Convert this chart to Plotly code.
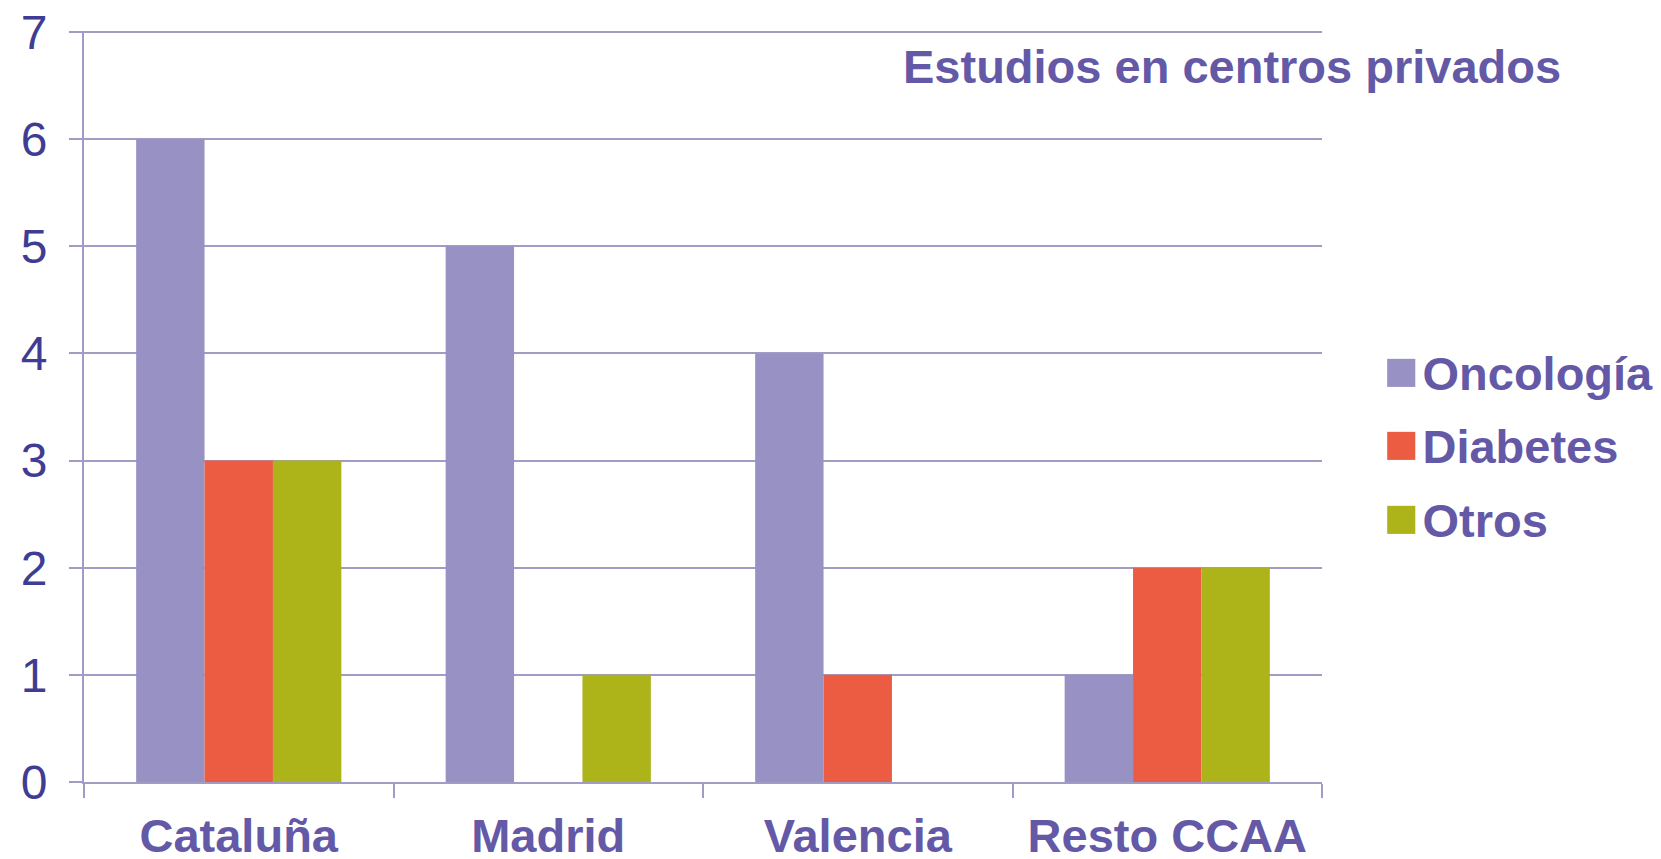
import plotly.graph_objects as go

categories = ["Cataluña", "Madrid", "Valencia", "Resto CCAA"]
oncologia = [6, 5, 4, 1]
diabetes = [3, 0, 1, 2]
otros = [3, 1, 0, 2]
series_names = ["Oncología", "Diabetes", "Otros"]
series_colors = ["#9891C4", "#EC5C43", "#ADB419"]
y_ticks = [0, 1, 2, 3, 4, 5, 6, 7]
title_text = "Estudios en centros privados"

LABEL_COLOR = "#6459A6"
TICK_COLOR = "#3F3D93"
LINE_COLOR = "#A09CC6"
FONT = "Liberation Sans, Arial, sans-serif"

# page body adds an 8px margin, so the figure is 8px smaller than the window
W, H = 1653, 851
L, R, T, B = 76, 339, 23, 77
PW, PH = W - L - R, H - T - B

fig = go.Figure()
for name, vals, col in zip(series_names, [oncologia, diabetes, otros], series_colors):
    fig.add_trace(go.Bar(x=categories, y=vals, name=name, marker=dict(color=col, line=dict(width=0)),
                         showlegend=False))
    # legend entry with large square swatch in text
    fig.add_trace(go.Scatter(x=[None], y=[None], mode="markers",
                             marker=dict(color="rgba(0,0,0,0)", size=1),
                             name=f"<span style='color:{col};font-size:58px'>■</span>\u200a{name}",
                             legendgroup=name, showlegend=True))

fig.add_annotation(text=f"<b>{title_text}</b>", xref="paper", yref="paper",
                   x=(893 - L) / PW, y=(H - B - 58) / PH, xanchor="left", yanchor="middle",
                   showarrow=False, font=dict(family=FONT, size=47, color=LABEL_COLOR))

fig.update_layout(
    width=W, height=H,
    margin=dict(l=L, r=R, t=T, b=B, autoexpand=False),
    paper_bgcolor="white", plot_bgcolor="white",
    barmode="group", bargap=0.337, bargroupgap=0,
    font=dict(family=FONT),
    legend=dict(x=(1335.5 - L) / PW, y=(H - B - 327) / PH, xanchor="left", yanchor="top",
                font=dict(family=FONT, size=47, color=LABEL_COLOR, weight="bold"),
                tracegroupgap=9, bgcolor="rgba(0,0,0,0)", itemwidth=30),
    xaxis=dict(type="category", showline=True, linecolor=LINE_COLOR, linewidth=2,
               ticks="outside", tickson="boundaries", ticklen=14, tickcolor=LINE_COLOR, tickwidth=2,
               showgrid=False, automargin=False, ticklabelstandoff=12,
               ticklabeloverflow="allow",
               tickfont=dict(family=FONT, size=47, color=LABEL_COLOR, weight="bold")),
    yaxis=dict(range=[0, 7.01], tickvals=y_ticks, showline=True, linecolor=LINE_COLOR, linewidth=2,
               ticks="outside", ticklen=13, tickcolor=LINE_COLOR, tickwidth=2,
               showgrid=True, gridcolor=LINE_COLOR, gridwidth=2, zeroline=False,
               ticklabelstandoff=12, automargin=False, ticklabeloverflow="allow",
               tickfont=dict(family=FONT, size=48, color=TICK_COLOR)),
)

fig.write_html("out.html")
